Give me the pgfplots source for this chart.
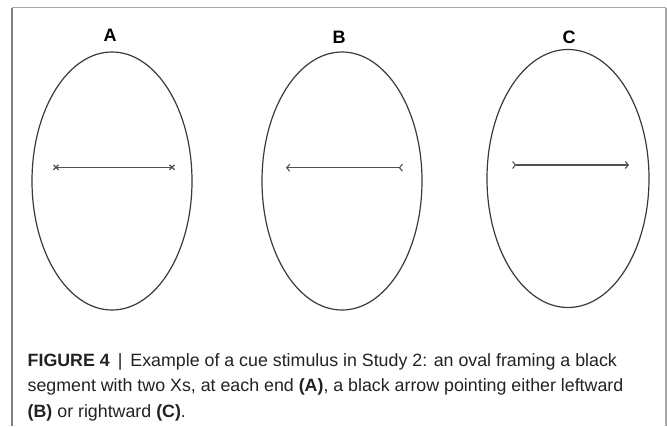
\documentclass[border=0pt]{standalone}
\usepackage{pgfplots}
\pgfplotsset{compat=1.18}
\usetikzlibrary{arrows.meta}
\usepackage{fontspec}
\setmainfont{Liberation Sans}
\definecolor{frame}{HTML}{A8A8A8}
\definecolor{frameL}{HTML}{808080}
\definecolor{ink}{HTML}{3A3A3A}
\definecolor{seg}{HTML}{505050}
\definecolor{txt}{HTML}{222222}
\begin{document}
\begin{tikzpicture}
\begin{axis}[
  width=667pt, height=426pt, scale only axis,
  xmin=0, xmax=667, ymin=0, ymax=426, y dir=reverse,
  hide axis, clip=false]
\path (axis cs:0,0) rectangle (axis cs:667,426);
% frame
\addplot[frame, line width=1.4pt, forget plot] coordinates {(12,7.5) (666,7.5)};
\addplot[frameL, line width=1.2pt, forget plot] coordinates {(12,7.5) (12,426)};
\addplot[frame, line width=1.2pt, forget plot] coordinates {(666,7.5) (666,426)};
% ovals
\draw[ink, line width=1.2pt] (axis cs:112,181) ellipse [x radius=80, y radius=129];
\draw[ink, line width=1.2pt] (axis cs:342,181) ellipse [x radius=80, y radius=129];
\draw[ink, line width=1.2pt] (axis cs:568,178.5) ellipse [x radius=81, y radius=129];
% A: segment with two Xs
\addplot[seg, line width=1.5pt, mark=x, mark size=3.5pt, mark options={line width=1.2pt}] coordinates {(56,167.3) (172,167.3)};
% B: leftward arrow
\addplot[seg, line width=1.5pt, {Straight Barb[length=3pt,width=7pt,line width=1.1pt]}-{Straight Barb[reversed,length=3pt,width=7pt,line width=1.1pt]}] coordinates {(286,167.7) (403,167.7)};
% C: rightward arrow
\addplot[seg, line width=1.5pt, {Straight Barb[reversed,length=3pt,width=7pt,line width=1.1pt]}-{Straight Barb[length=3pt,width=7pt,line width=1.1pt]}] coordinates {(512,165) (629,165)};
% labels
\node[anchor=base, inner sep=0, font=\fontsize{18}{18}\selectfont\bfseries] at (axis cs:110,41) {A};
\node[anchor=base, inner sep=0, font=\fontsize{18}{18}\selectfont\bfseries] at (axis cs:339,43) {B};
\node[anchor=base, inner sep=0, font=\fontsize{18}{18}\selectfont\bfseries] at (axis cs:569,43) {C};
% caption
\node[anchor=base west, inner sep=0, text=txt, font=\fontsize{17.8}{17.8}\selectfont] at (axis cs:27.5,366) {\textbf{FIGURE 4}\hspace{0.45em}|\hspace{0.45em}Example of a cue stimulus in Study 2: an oval framing a black};
\node[anchor=base west, inner sep=0, text=txt, font=\fontsize{17.8}{17.8}\selectfont] at (axis cs:27.5,391.5) {segment with two Xs, at each end \textbf{(A)}, a black arrow pointing either leftward};
\node[anchor=base west, inner sep=0, text=txt, font=\fontsize{17.8}{17.8}\selectfont] at (axis cs:27.5,417) {\textbf{(B)} or rightward \textbf{(C)}.};
\end{axis}
\end{tikzpicture}
\end{document}
